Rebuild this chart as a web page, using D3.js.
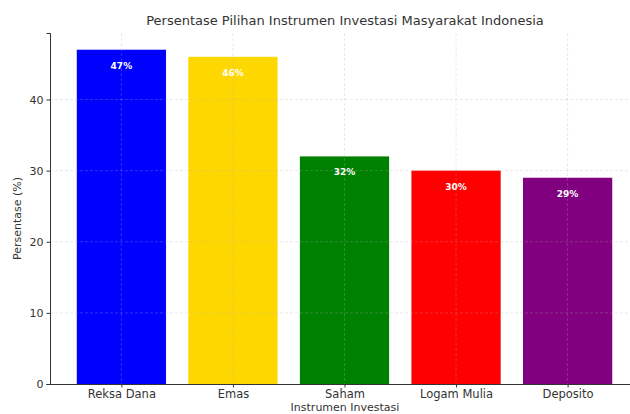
<!DOCTYPE html>
<html>
<head>
<meta charset="utf-8">
<script src="https://cdn.jsdelivr.net/npm/d3@7"></script>
<style>
  body { margin: 0; background: #fff; }
  svg { font-family: "DejaVu Sans", sans-serif; }
</style>
</head>
<body>
<div id="chart"></div>
<script>
const categories = ["Reksa Dana", "Emas", "Saham", "Logam Mulia", "Deposito"];
const values = [47, 46, 32, 30, 29];
const colors = ["#0000ff", "#ffd700", "#008000", "#ff0000", "#800080"];
const yTicks = [0, 10, 20, 30, 40];

const width = 630;
const height = 414;
const margin = { top: 33, bottom: 30, left: 50, right: -9 };

const svg = d3.select("#chart")
  .append("svg")
  .attr("width", width)
  .attr("height", height);

// centers at integer positions, xlim -0.64..4.64 like matplotlib
const x = d3.scaleLinear()
  .domain([-0.64, categories.length - 1 + 0.64])
  .range([margin.left, width - margin.right]);
const barW = x(0.4) - x(-0.4);

const y = d3.scaleLinear()
  .domain([0, 49.35])
  .range([height - margin.bottom, margin.top]);

// bars
svg.append("g")
  .selectAll("rect")
  .data(values)
  .join("rect")
    .attr("x", (d, i) => x(i) - barW / 2)
    .attr("y", d => y(d))
    .attr("width", barW)
    .attr("height", d => y(0) - y(d))
    .attr("fill", (d, i) => colors[i]);

// grid (drawn on top, faint)
const grid = svg.append("g")
  .attr("stroke", "#b0b0b0")
  .attr("stroke-opacity", 0.35)
  .attr("stroke-dasharray", "3,2")
  .attr("stroke-width", 0.8);
grid.selectAll("line.h")
  .data(yTicks.slice(1))
  .join("line")
  .attr("x1", margin.left).attr("x2", width)
  .attr("y1", d => y(d)).attr("y2", d => y(d));
grid.selectAll("line.v")
  .data(categories)
  .join("line")
  .attr("x1", (d, i) => x(i)).attr("x2", (d, i) => x(i))
  .attr("y1", y.range()[1]).attr("y2", y(0));

// value labels
svg.append("g")
  .selectAll("text")
  .data(values)
  .join("text")
    .attr("x", (d, i) => x(i))
    .attr("y", d => y(d) + 19)
    .attr("text-anchor", "middle")
    .attr("fill", "#fff")
    .attr("font-weight", "bold")
    .attr("font-size", "9px")
    .text(d => d + "%");

function yAxis(g) {
  g.attr("transform", `translate(${margin.left},0)`)
    .call(d3.axisLeft(y).tickValues(yTicks).tickSize(3.5).tickPadding(3))
    .attr("font-size", "11px")
    .attr("font-family", "DejaVu Sans, sans-serif")
    .call(g => g.selectAll("text").attr("fill", "#333"))
    .call(g => g.selectAll("line, path").attr("stroke", "#333"));
}

function xAxis(g) {
  g.attr("transform", `translate(0,${y(0)})`)
    .call(d3.axisBottom(x).tickValues(d3.range(categories.length)).tickFormat(i => categories[i]).tickSize(3.5).tickPadding(2))
    .attr("font-size", "11.5px")
    .attr("font-family", "DejaVu Sans, sans-serif")
    .call(g => g.select(".domain").attr("d", `M${margin.left},0.5H${width}`))
    .call(g => g.selectAll("text").attr("fill", "#333"))
    .call(g => g.selectAll("line, path").attr("stroke", "#333"));
}

svg.append("g").call(xAxis);
svg.append("g").call(yAxis);

svg.append("text")
  .attr("x", 345).attr("y", 25)
  .attr("text-anchor", "middle")
  .attr("font-size", "13px")
  .attr("fill", "#333")
  .text("Persentase Pilihan Instrumen Investasi Masyarakat Indonesia");

svg.append("text")
  .attr("transform", `translate(21,${(y(0) + margin.top) / 2 + 10}) rotate(-90)`)
  .attr("text-anchor", "middle")
  .attr("font-size", "11px")
  .attr("fill", "#333")
  .text("Persentase (%)");

svg.append("text")
  .attr("x", 345).attr("y", 411)
  .attr("text-anchor", "middle")
  .attr("font-size", "11px")
  .attr("fill", "#333")
  .text("Instrumen Investasi");
</script>
</body>
</html>
